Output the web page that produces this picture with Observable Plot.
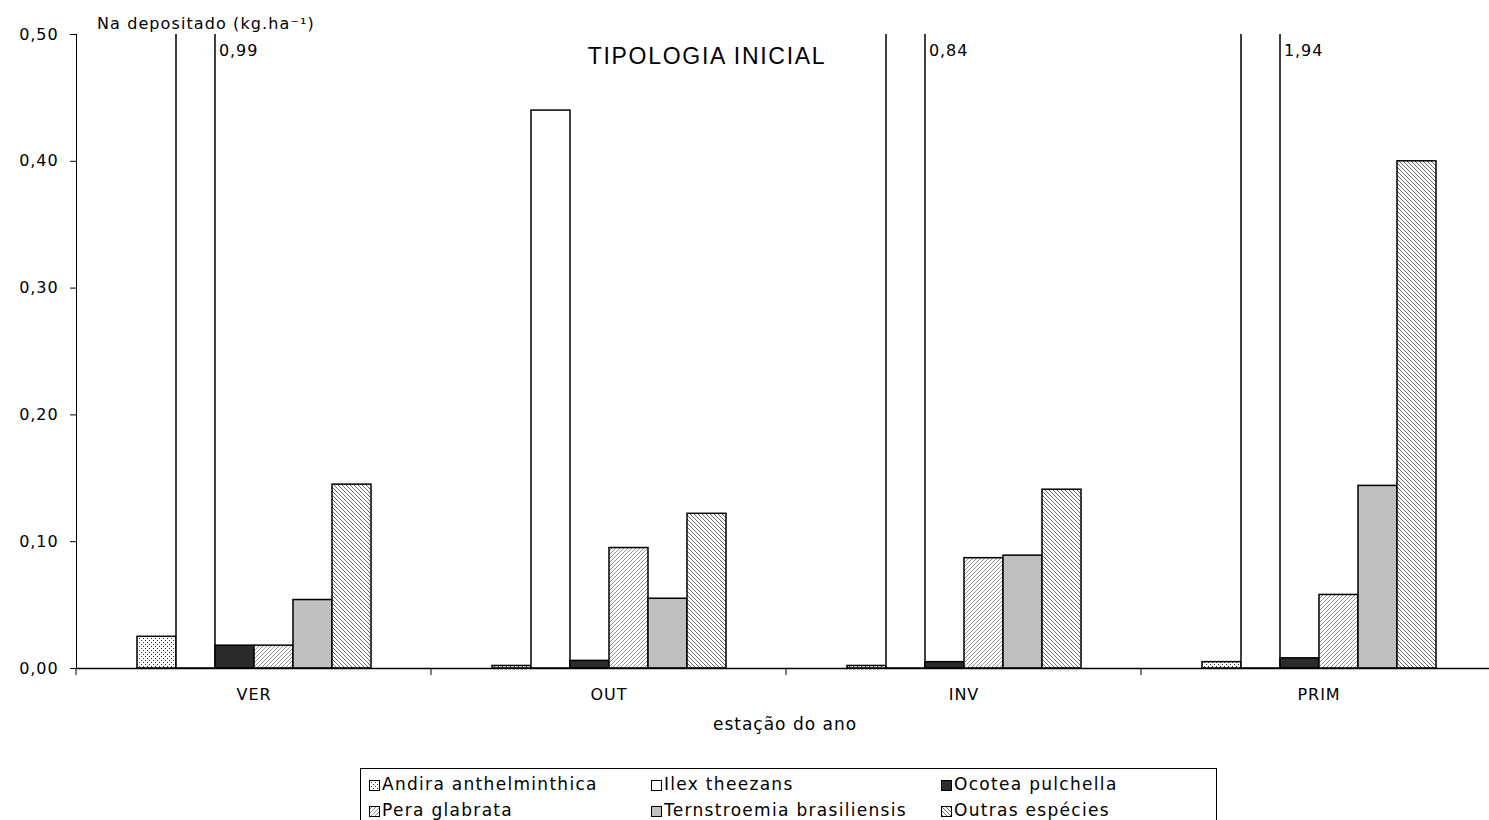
<!DOCTYPE html>
<html><head><meta charset="utf-8">
<script src="https://cdn.jsdelivr.net/npm/d3@7"></script>
<script src="https://cdn.jsdelivr.net/npm/@observablehq/plot@0.6"></script>
<style>
body{margin:0;background:#fff;overflow:hidden;font-family:"DejaVu Sans",sans-serif;}
#wrap{position:relative;width:1489px;height:820px;overflow:hidden;}
#chart{position:absolute;left:0;top:0;}
#legend{position:absolute;left:360px;top:768px;width:857px;height:60px;border:1px solid #000;box-sizing:border-box;background:#fff;}
.item{position:absolute;font-family:"DejaVu Sans",sans-serif;font-size:17px;letter-spacing:1.3px;line-height:18px;white-space:nowrap;color:#000;}
.item svg{vertical-align:-1px;margin-right:2px;}
</style></head><body>
<svg width="0" height="0" style="position:absolute">
<defs>
<pattern id="pDots" width="4" height="4" patternUnits="userSpaceOnUse">
<rect width="4" height="4" fill="#fff"/><rect x="0" y="0" width="1" height="1" fill="#333"/><rect x="2" y="2" width="1" height="1" fill="#333"/>
</pattern>
<pattern id="pFwd" width="4" height="4" patternUnits="userSpaceOnUse">
<rect width="4" height="4" fill="#fff"/><path d="M-1,1 l2,-2 M0,4 l4,-4 M3,5 l2,-2" stroke="#777" stroke-width="0.8"/>
</pattern>
<pattern id="pBack" width="4" height="4" patternUnits="userSpaceOnUse">
<rect width="4" height="4" fill="#fff"/><path d="M-1,3 l2,2 M0,0 l4,4 M3,-1 l2,2" stroke="#444" stroke-width="0.8"/>
</pattern>
</defs></svg>
<div id="wrap"><div id="chart"></div><div id="legend"></div></div>
<script>
const seasons = ["VER", "OUT", "INV", "PRIM"];
const species = ["Andira anthelminthica", "Ilex theezans", "Ocotea pulchella", "Pera glabrata", "Ternstroemia brasiliensis", "Outras espécies"];
const andira = [0.025, 0.002, 0.002, 0.005];
const ilex = [0.99, 0.44, 0.84, 1.94];
const ocotea = [0.018, 0.006, 0.005, 0.008];
const pera = [0.018, 0.095, 0.087, 0.058];
const ternstroemia = [0.054, 0.055, 0.089, 0.144];
const outras = [0.145, 0.122, 0.141, 0.400];
const yTicks = [0, 0.1, 0.2, 0.3, 0.4, 0.5];
const fills = ["url(#pDots)", "#ffffff", "#2b2b2b", "url(#pFwd)", "#c0c0c0", "url(#pBack)"];
const titleText = "TIPOLOGIA INICIAL";
const yLabel = "Na depositado (kg.ha⁻¹)";
const xLabel = "estação do ano";

const seriesValues = [andira, ilex, ocotea, pera, ternstroemia, outras];
const data = [];
seasons.forEach((s, i) => species.forEach((sp, j) => data.push({season: s, species: sp, value: seriesValues[j][i]})));
const yMax = 0.5;
const over = seasons.map((s, i) => ({season: s, species: species[1], value: ilex[i]})).filter(d => d.value > yMax);
const fmt = d => d.toFixed(2).replace(".", ",");

const chart = Plot.plot({
  width: 1500, height: 750,
  marginLeft: 75, marginRight: 4, marginTop: 34, marginBottom: 82,
  style: {fontFamily: '"DejaVu Sans", sans-serif', fontSize: "16px", letterSpacing: "0.9px", color: "#000", background: "#fff", maxWidth: "none"},
  fx: {domain: seasons, padding: 0, label: null, tickSize: 0, tickPadding: 20, axis: "bottom"},
  x: {domain: species, paddingInner: 0, paddingOuter: 1.48, axis: null},
  y: {domain: [0, yMax], ticks: yTicks, tickFormat: fmt, label: null, line: true, tickSize: 6, tickPadding: 12},
  color: {domain: species, range: fills},
  marks: [
    Plot.barY(data, {fx: "season", x: "species", y: "value", fill: "species", stroke: "#000", strokeWidth: 1.5, clip: true}),
    Plot.ruleY([0], {stroke: "#000", strokeWidth: 1.5}),
    Plot.text(over, {fx: "season", x: "species", text: d => fmt(d.value), frameAnchor: "top", textAnchor: "start", dx: 23, dy: 10, fontSize: 16, fill: "#000"})
  ]
});
document.getElementById("chart").appendChild(chart);

// category boundary ticks and extra texts
const svg = d3.select(chart);
const fxs = chart.scale("fx"), ys = chart.scale("y");
const y0 = ys.apply ? ys.apply(0) : ys.range[0];
let bounds;
if (fxs.apply && fxs.bandwidth) {
  bounds = seasons.map(s => fxs.apply(s)); bounds.push(fxs.apply(seasons[seasons.length - 1]) + fxs.bandwidth);
} else {
  const [r0, r1] = fxs.range; const st = (r1 - r0) / seasons.length;
  bounds = d3.range(seasons.length + 1).map(i => r0 + i * st);
}
svg.append("g").selectAll("line").data(bounds).join("line")
  .attr("x1", d => d).attr("x2", d => d).attr("y1", y0).attr("y2", y0 + 7)
  .attr("stroke", "#000").attr("stroke-width", 1);
svg.append("text").attr("x", 707).attr("y", 64).attr("text-anchor", "middle")
  .style("font-family", '"Liberation Sans", Arial, sans-serif').style("font-size", "23px").style("letter-spacing", "1.7px")
  .attr("fill", "#000").text(titleText);
svg.append("text").attr("x", 97).attr("y", 29).attr("text-anchor", "start").style("letter-spacing", "1.1px").attr("fill", "#000").text(yLabel);
svg.append("text").attr("x", 785).attr("y", 730).attr("text-anchor", "middle").style("font-size", "17px").style("letter-spacing", "1px").attr("fill", "#000").text(xLabel);

// legend
const leg = document.getElementById("legend");
const colX = [8, 290, 580];
species.forEach((sp, i) => {
  const div = document.createElement("div");
  div.className = "item";
  div.style.left = colX[i % 3] + "px";
  div.style.top = (6 + Math.floor(i / 3) * 26) + "px";
  div.innerHTML = `<svg width="11" height="11"><rect x="0.5" y="0.5" width="10" height="10" fill="${fills[i]}" stroke="#000"/></svg>` + sp;
  leg.appendChild(div);
});
</script>
</body></html>
